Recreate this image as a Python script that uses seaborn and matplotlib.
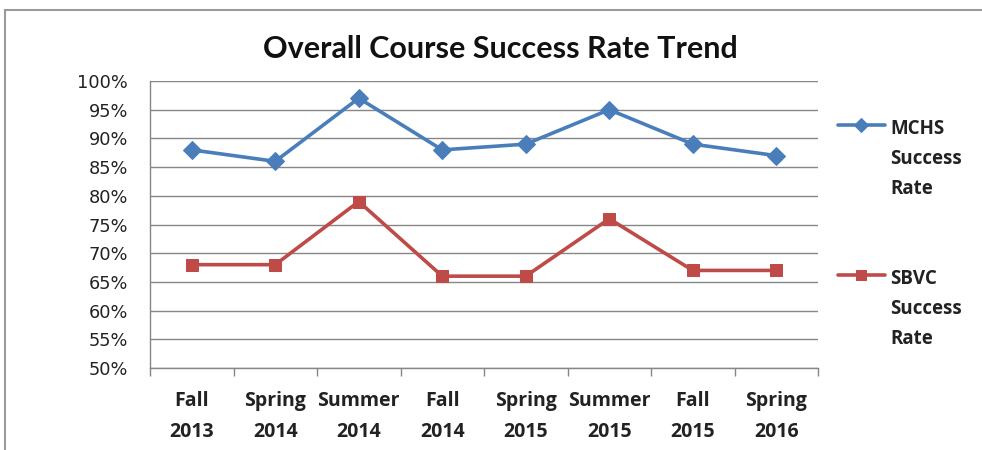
import numpy as np
import pandas as pd
import seaborn as sns
import matplotlib.pyplot as plt
from matplotlib.patches import Rectangle
from matplotlib.legend_handler import HandlerLine2D

terms = ['Fall\n2013', 'Spring\n2014', 'Summer\n2014', 'Fall\n2014',
         'Spring\n2015', 'Summer\n2015', 'Fall\n2015', 'Spring\n2016']
mchs = [0.88, 0.86, 0.97, 0.88, 0.89, 0.95, 0.89, 0.87]
sbvc = [0.68, 0.68, 0.79, 0.66, 0.66, 0.76, 0.67, 0.67]
series_names = ['MCHS\nSuccess\nRate', 'SBVC\nSuccess\nRate']
yticks = [0.50, 0.55, 0.60, 0.65, 0.70, 0.75, 0.80, 0.85, 0.90, 0.95, 1.00]

df = pd.DataFrame({
    'pos': list(range(len(terms))) * 2,
    'rate': mchs + sbvc,
    'series': [series_names[0]] * len(terms) + [series_names[1]] * len(terms),
})

sns.set_style('white')
plt.rcParams['font.family'] = ['Open Sans', 'DejaVu Sans']

fig = plt.figure(figsize=(9.82, 4.5), dpi=100)
ax = fig.add_axes([150 / 982, 1 - 368 / 450, 668 / 982, 287 / 450])

blue = '#4A7EBB'
red = '#BE4B48'
sns.lineplot(data=df, x='pos', y='rate', hue='series', style='series',
             palette={series_names[0]: blue, series_names[1]: red},
             markers={series_names[0]: 'D', series_names[1]: 's'},
             dashes=False, linewidth=2.6, markersize=9, ax=ax)
for ln in ax.lines:
    ln.set_markeredgecolor(ln.get_color())

ax.set_ylim(0.50, 1.00)
ax.set_xlim(-0.5, len(terms) - 0.5)
ax.set_yticks(yticks)
ax.set_yticklabels([f'{int(round(v * 100))}%' for v in yticks], fontsize=12.8,
                   color='#222222', family='DejaVu Sans')
ax.set_xticks(range(len(terms)))
ax.set_xticklabels(terms, fontsize=14, fontweight='bold', color='#222222', linespacing=1.73)
ax.set_xticks(np.arange(-0.5, len(terms), 1), minor=True)
ax.tick_params(axis='x', which='major', length=0, pad=16.5)
ax.tick_params(axis='x', which='minor', length=6, width=1, color='#868686', direction='out', bottom=True)
ax.tick_params(axis='y', length=0, pad=16)
ax.yaxis.grid(True, color='#868686', linewidth=1)
ax.xaxis.grid(False)
for s in ['top', 'right']:
    ax.spines[s].set_visible(False)
for s in ['left', 'bottom']:
    ax.spines[s].set_color('#868686')
    ax.spines[s].set_linewidth(1)
ax.set_xlabel('')
ax.set_ylabel('')


class TopHandler(HandlerLine2D):
    # put the legend line level with the first line of a multi-line label
    def create_artists(self, legend, orig_handle, xdescent, ydescent, width, height, fontsize, trans):
        arts = super().create_artists(legend, orig_handle, xdescent, ydescent, width, height, fontsize, trans)
        for a in arts:
            a.set_ydata(np.asarray(a.get_ydata(), dtype=float) + 25)
        return arts


handles, labels = ax.get_legend_handles_labels()
ax.legend_.remove()
for h in handles:
    h.set_markersize(7)
leg = fig.legend(handles, labels, loc='upper left', bbox_to_anchor=(838 / 982, 1 - 119 / 450),
                 frameon=False, borderpad=0, borderaxespad=0, handlelength=2.5, handletextpad=0.3,
                 labelspacing=3.73, prop={'size': 13.5, 'weight': 'bold'},
                 handler_map={h: TopHandler(numpoints=1) for h in handles})
for t in leg.get_texts():
    t.set_linespacing(1.66)
    t.set_color('#222222')

fig.text(500 / 982, 1 - 49 / 450, 'Overall Course Success Rate Trend', ha='center', va='center',
         fontsize=22, fontweight='bold', color='#111111', family='Lato')

fig.patches.append(Rectangle((5 / 982, -0.1), 2, 1 - 10 / 450 + 0.1, transform=fig.transFigure,
                             fill=False, edgecolor='#9a9a9a', linewidth=1.5))

fig.savefig('out.png', dpi=100)
